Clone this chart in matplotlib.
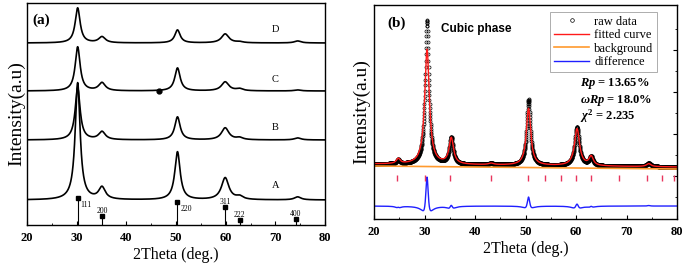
import numpy as np
import matplotlib.pyplot as plt
from matplotlib.ticker import MultipleLocator, FixedLocator

plt.rcParams['font.family'] = ['Liberation Serif', 'DejaVu Serif']
plt.rcParams['mathtext.fontset'] = 'custom'
plt.rcParams['mathtext.it'] = 'Liberation Serif:italic:bold'
plt.rcParams['mathtext.rm'] = 'Liberation Serif:bold'

# ---------- panel (a): XRD patterns of samples A-D ----------
pos_a = [30.2, 35.1, 50.3, 59.9, 62.8, 74.5]
width_a = [0.6, 0.8, 0.65, 0.9, 0.8, 0.8]
alto_A = [117, 12, 48, 22, 3, 3]
alto_B = [52, 8, 23, 12, 2, 2]
alto_C = [44, 8, 23, 9, 2, 1]
alto_D = [35, 6, 13, 9, 1, 2]
base_muestras = [25, 85, 134, 182]
nombres = ['A', 'B', 'C', 'D']
y_nombres = [39, 98, 145, 196]

# reference pattern (sticks)
ref_pos = [30.2, 35.1, 50.3, 59.9, 62.8, 74.1]
ref_alto = [27, 9, 23, 18, 5, 6]
ref_hkl = ['111', '200', '220', '311', '222', '400']

# impurity point on curve C
punto_C = (46.5, 134)

# ---------- panel (b): Rietveld refinement ----------
pos_b = [24.8, 30.5, 35.3, 43.2, 50.6, 60.2, 63.0, 74.4]
raw_alto = [4, 144, 27, 1.5, 66, 39, 9, 3.5]
raw_width = [0.32, 0.43, 0.44, 0.6, 0.44, 0.52, 0.42, 0.5]
fit_alto = [5, 115, 26, 1.5, 57, 37, 9, 3]
fit_width = [0.45, 0.55, 0.52, 0.6, 0.52, 0.6, 0.5, 0.55]
fondo_x = [20, 80]
fondo_y = [53, 50]
fondo_extra = 2
bragg_pos = [24.5, 30.1, 35.1, 43.2, 50.4, 53.8, 57.1, 60.0, 62.9, 68.5, 74.0, 77.0, 79.5]
bragg_y = 41
diff_base = 13


def perfil(x, pos, alto, ancho):
    """Suma de picos tipo Lorentz"""
    y = np.zeros_like(x)
    for p, h, w in zip(pos, alto, ancho):
        y += h / (1 + ((x - p) / w) ** 2)
    return y


x = np.arange(20, 80.001, 0.03)

fig = plt.figure(figsize=(6.85, 2.66), dpi=100)
ax1 = fig.add_axes([27 / 685, 41 / 266, 298 / 685, 222 / 266])
ax2 = fig.add_axes([374 / 685, 47 / 266, 303 / 685, 214 / 266])

# panel (a)
for alto, base in zip([alto_A, alto_B, alto_C, alto_D], base_muestras):
    ax1.plot(x, base + perfil(x, pos_a, alto, width_a), color='black', lw=1.2)
for nom, yn in zip(nombres, y_nombres):
    ax1.text(70, yn, nom, fontsize=7.5, ha='center', va='center')
ax1.plot(*punto_C, 'o', color='black', ms=3.5)

ax1.vlines(ref_pos, 0, ref_alto, color='black', lw=0.8)
ax1.plot(ref_pos, ref_alto, 's', color='black', ms=3.5)
for p, h, lab in zip(ref_pos, ref_alto, ref_hkl):
    if lab in ('111', '220'):
        ax1.text(p + 0.6, h - 7, lab, fontsize=5.5, ha='left', va='center')
    else:
        ax1.text(p, h + 5, lab, fontsize=5.5, ha='center', va='center')

ax1.text(21.0, 205, '(a)', fontsize=11, fontweight='bold', va='center')
ax1.set_xlim(20, 80)
ax1.set_ylim(0, 222)
ax1.set_yticks([])
ax1.xaxis.set_major_locator(MultipleLocator(10))
ax1.xaxis.set_minor_locator(MultipleLocator(5))
ax1.tick_params(axis='x', which='major', direction='in', length=3, labelsize=9, pad=5)
ax1.tick_params(axis='x', which='minor', direction='in', length=1.5)
ax1.set_xlabel('2Theta (deg.)', fontsize=11.5, labelpad=2)
ax1.set_ylabel('Intensity(a.u)', fontsize=14, labelpad=1)

# panel (b)
raw = fondo_extra + np.interp(x, fondo_x, fondo_y) + perfil(x, pos_b, raw_alto, raw_width)
fit = fondo_extra + np.interp(x, fondo_x, fondo_y) + perfil(x, pos_b, fit_alto, fit_width)
ax2.plot(x, raw, 'o', mfc='none', mec='black', ms=2.2, mew=0.5, label='raw data')
ax2.plot(x, fit, color='#ff1a1a', lw=1.0, label='fitted curve')
ax2.plot(fondo_x, fondo_y, color='#ff9a2e', lw=1.2, label='background')
ax2.plot(x, raw - fit + diff_base, color='#1f1fff', lw=1.0, label='difference')
ax2.plot(bragg_pos, [bragg_y] * len(bragg_pos), '|', color='#e8365d', ms=5, mew=1.0)

ax2.text(22.6, 196, '(b)', fontsize=11, fontweight='bold', va='center')
ax2.text(33.3, 190, 'Cubic phase', fontsize=8.5, fontweight='bold',
         family='Liberation Sans', va='center')
ax2.text(60.8, 136, r'$Rp$ = 13.65%', fontsize=9, fontweight='bold', va='center')
ax2.text(60.8, 119, r'$\omega Rp$ = 18.0%', fontsize=9, fontweight='bold', va='center')
ax2.text(60.8, 103, r'$\chi^2$ = 2.235', fontsize=9, fontweight='bold', va='center')

leg = ax2.legend(loc='upper right', bbox_to_anchor=(0.934, 0.967), fontsize=9,
                 frameon=True, fancybox=False, edgecolor='#888888',
                 handlelength=2.8, labelspacing=0.12, borderpad=0.3,
                 handletextpad=0.4, borderaxespad=0, markerscale=1.2)
leg.get_frame().set_linewidth(0.6)

ax2.set_xlim(20, 80)
ax2.set_ylim(0, 214)
ax2.xaxis.set_major_locator(MultipleLocator(10))
ax2.xaxis.set_minor_locator(MultipleLocator(5))
ax2.tick_params(axis='x', which='major', direction='in', length=3, labelsize=9, pad=5)
ax2.tick_params(axis='x', which='minor', direction='in', length=1.5)
ax2.yaxis.tick_right()
ax2.yaxis.set_major_locator(FixedLocator([43, 85, 127, 169]))
ax2.yaxis.set_minor_locator(FixedLocator([22, 64, 106, 148, 190]))
ax2.tick_params(axis='y', which='both', direction='in', labelright=False)
ax2.tick_params(axis='y', which='major', length=3)
ax2.tick_params(axis='y', which='minor', length=1.5)
ax2.yaxis.set_label_position('left')
ax2.set_xlabel('2Theta (deg.)', fontsize=11.5, labelpad=2)
ax2.set_ylabel('Intensity(a.u)', fontsize=14, labelpad=3)

for ax in (ax1, ax2):
    for lab in ax.get_xticklabels():
        lab.set_fontweight('bold')
    for s in ax.spines.values():
        s.set_linewidth(1.0)

fig.savefig('out.png', dpi=100)
